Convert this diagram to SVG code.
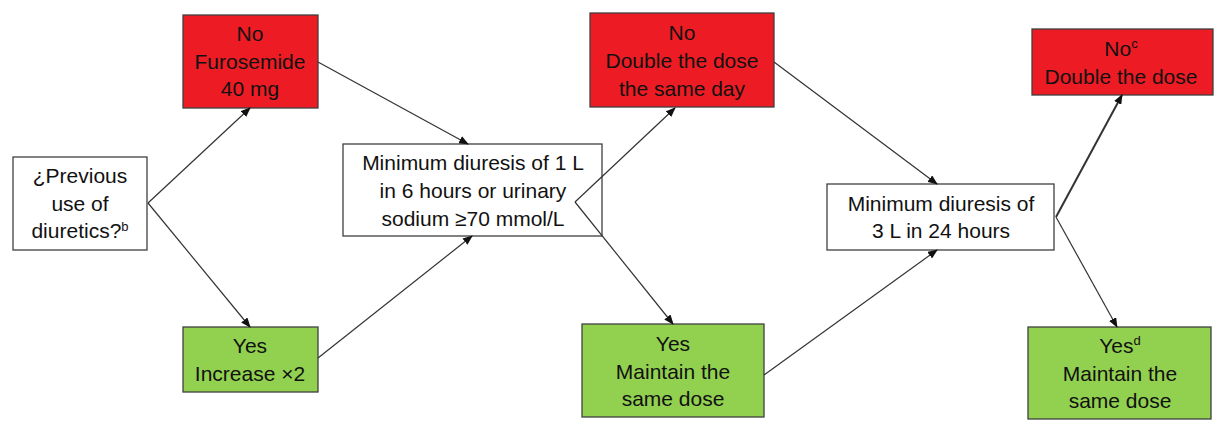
<svg xmlns="http://www.w3.org/2000/svg" width="1214" height="427" viewBox="0 0 1214 427">
<defs>
<marker id="ah" markerUnits="userSpaceOnUse" markerWidth="10" markerHeight="8" refX="9" refY="4" orient="auto">
<path d="M0,0 L10,4 L0,8 Z" fill="#111"/>
</marker>
<style>
.box{stroke:#404040;stroke-width:1.3}
.w{fill:#ffffff}
.r{fill:#ed1c24}
.g{fill:#92d050}
text{font-family:"Liberation Sans",Arial,sans-serif;font-size:21px;fill:#111;text-anchor:middle}
.sup{font-size:13px}
.c{fill:none;stroke:#333;stroke-width:1.2;marker-end:url(#ah)}
.thick{stroke-width:2}
</style>
</defs>
<rect width="1214" height="427" fill="#ffffff"/>
<g id="q">
<rect class="box w" x="13" y="157" width="134" height="93"/>
<text x="80" y="183">¿Previous</text>
<text x="80" y="211">use of</text>
<text x="80" y="238">diuretics?<tspan class="sup" dy="-7">b</tspan></text>
</g>
<g id="no1">
<rect class="box r" x="183" y="15" width="135" height="93"/>
<text x="250" y="41">No</text>
<text x="250" y="69">Furosemide</text>
<text x="250" y="96">40 mg</text>
</g>
<g id="yes1">
<rect class="box g" x="183" y="327" width="135" height="65"/>
<text x="250" y="353">Yes</text>
<text x="250" y="381">Increase ×2</text>
</g>
<g id="min1">
<rect class="box w" x="343" y="144" width="259" height="92"/>
<text x="473" y="170">Minimum diuresis of 1 L</text>
<text x="473" y="198">in 6 hours or urinary</text>
<text x="473" y="226">sodium ≥70 mmol/L</text>
</g>
<g id="no2">
<rect class="box r" x="590" y="13" width="184" height="94"/>
<text x="682" y="40">No</text>
<text x="682" y="68">Double the dose</text>
<text x="682" y="96">the same day</text>
</g>
<g id="yes2">
<rect class="box g" x="582" y="324" width="182" height="93"/>
<text x="673" y="351">Yes</text>
<text x="673" y="379">Maintain the</text>
<text x="673" y="406">same dose</text>
</g>
<g id="min2">
<rect class="box w" x="827" y="184" width="227" height="66"/>
<text x="941" y="211">Minimum diuresis of</text>
<text x="941" y="238">3 L in 24 hours</text>
</g>
<g id="no3">
<rect class="box r" x="1032" y="29" width="181" height="66"/>
<text x="1121" y="56">No<tspan class="sup" dy="-8">c</tspan></text>
<text x="1121" y="84">Double the dose</text>
</g>
<g id="yes3">
<rect class="box g" x="1028" y="327" width="183" height="92"/>
<text x="1120" y="353">Yes<tspan class="sup" dy="-8">d</tspan></text>
<text x="1120" y="381">Maintain the</text>
<text x="1120" y="408">same dose</text>
</g>
<g id="connectors">
<path class="c" d="M148,203 L250,108"/>
<path class="c" d="M148,203 L250,327"/>
<path class="c" d="M318,62 L468,144"/>
<path class="c" d="M318,358 L472,236"/>
<path class="c" d="M575,202 L675,108"/>
<path class="c" d="M575,202 L673,324"/>
<path class="c" d="M774,62 L937,184"/>
<path class="c" d="M764,375 L937,250"/>
<path class="c thick" d="M1056,217 L1122,95"/>
<path class="c" d="M1056,217 L1117,327"/>
</g>
</svg>
